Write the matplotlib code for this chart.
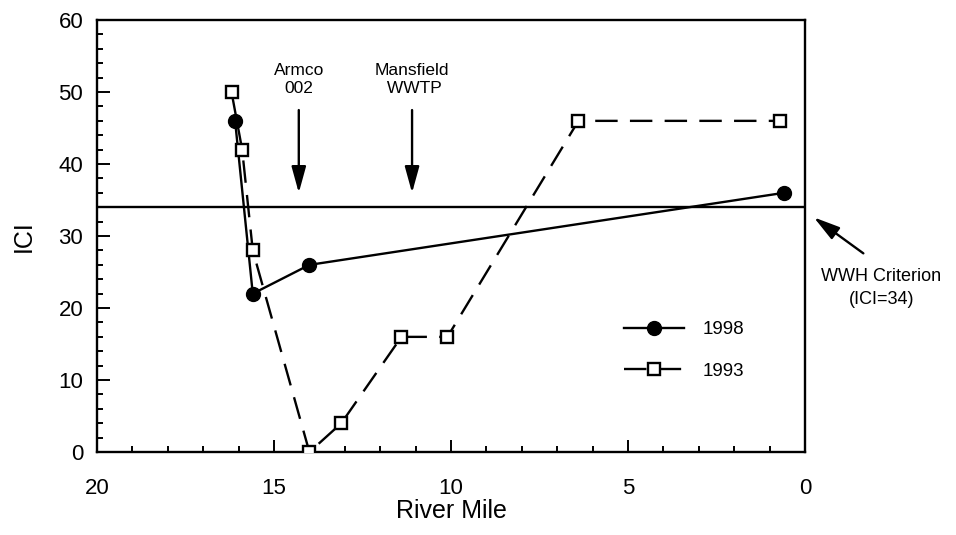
import matplotlib.pyplot as plt
from matplotlib.ticker import MultipleLocator

plt.rcParams['font.family'] = ['Liberation Sans', 'DejaVu Sans']

# ICI scores by river mile
mile_1998 = [16.1, 15.6, 14.0, 0.6]
ici_1998 = [46, 22, 26, 36]

mile_1993 = [16.2, 15.9, 15.6, 14.0, 13.1, 11.4, 10.1, 6.4, 0.7]
ici_1993 = [50, 42, 28, 0, 4, 16, 16, 46, 46]

criterion = 34

# source locations along the river
sources = [(14.3, 'Armco\n002'), (11.1, 'Mansfield\n WWTP')]

fig = plt.figure(figsize=(9.56, 5.35), dpi=100)
ax = fig.add_axes([0.1015, 0.155, 0.7405, 0.8075])

ax.plot(mile_1998, ici_1998, color='black', lw=1.7, marker='o',
        markersize=10, markerfacecolor='black', label='1998', zorder=3)
ax.plot(mile_1993, ici_1993, color='black', lw=1.7, marker='s',
        markersize=8.5, markerfacecolor='white', markeredgewidth=1.7,
        dashes=(9.5, 5.2), label='1993', zorder=4)

ax.axhline(criterion, color='black', lw=1.7, zorder=2)

ax.set_xlim(20, 0)
ax.set_ylim(0, 60)
ax.xaxis.set_major_locator(MultipleLocator(5))
ax.xaxis.set_minor_locator(MultipleLocator(1))
ax.yaxis.set_major_locator(MultipleLocator(10))
ax.yaxis.set_minor_locator(MultipleLocator(2))
ax.tick_params(which='both', direction='in', width=1.4, top=False, right=False)
ax.tick_params(which='major', length=9)
ax.tick_params(which='minor', length=4.5)
ax.tick_params(axis='x', which='major', pad=19, labelsize=16)
ax.tick_params(axis='y', which='major', pad=10, labelsize=16)
for s in ax.spines.values():
    s.set_linewidth(1.7)

ax.set_xlabel('River Mile', fontsize=18, labelpad=0)
ax.set_ylabel('ICI', fontsize=18, labelpad=16)

arrow = dict(arrowstyle='-|>,head_length=0.8,head_width=0.22',
             color='black', lw=1.7, mutation_scale=20, shrinkA=0, shrinkB=0)

for x, txt in sources:
    ax.text(x, 49.4, txt, ha='center', va='bottom', fontsize=12.5, linespacing=1.25)
    ax.annotate('', xy=(x, 36.0), xytext=(x, 47.5), arrowprops=arrow)

ax.annotate('', xy=(-0.25, 32.6), xytext=(-1.65, 27.6), annotation_clip=False,
            arrowprops=arrow)
fig.text(0.922, 0.462, 'WWH Criterion\n(ICI=34)', ha='center', va='center',
         fontsize=13, linespacing=1.45)

ax.legend(loc='center left', bbox_to_anchor=(0.72, 0.235), frameon=False,
          fontsize=13.5, handlelength=3.2, labelspacing=1.3, handletextpad=1.0)

fig.savefig('out.png', dpi=100)
